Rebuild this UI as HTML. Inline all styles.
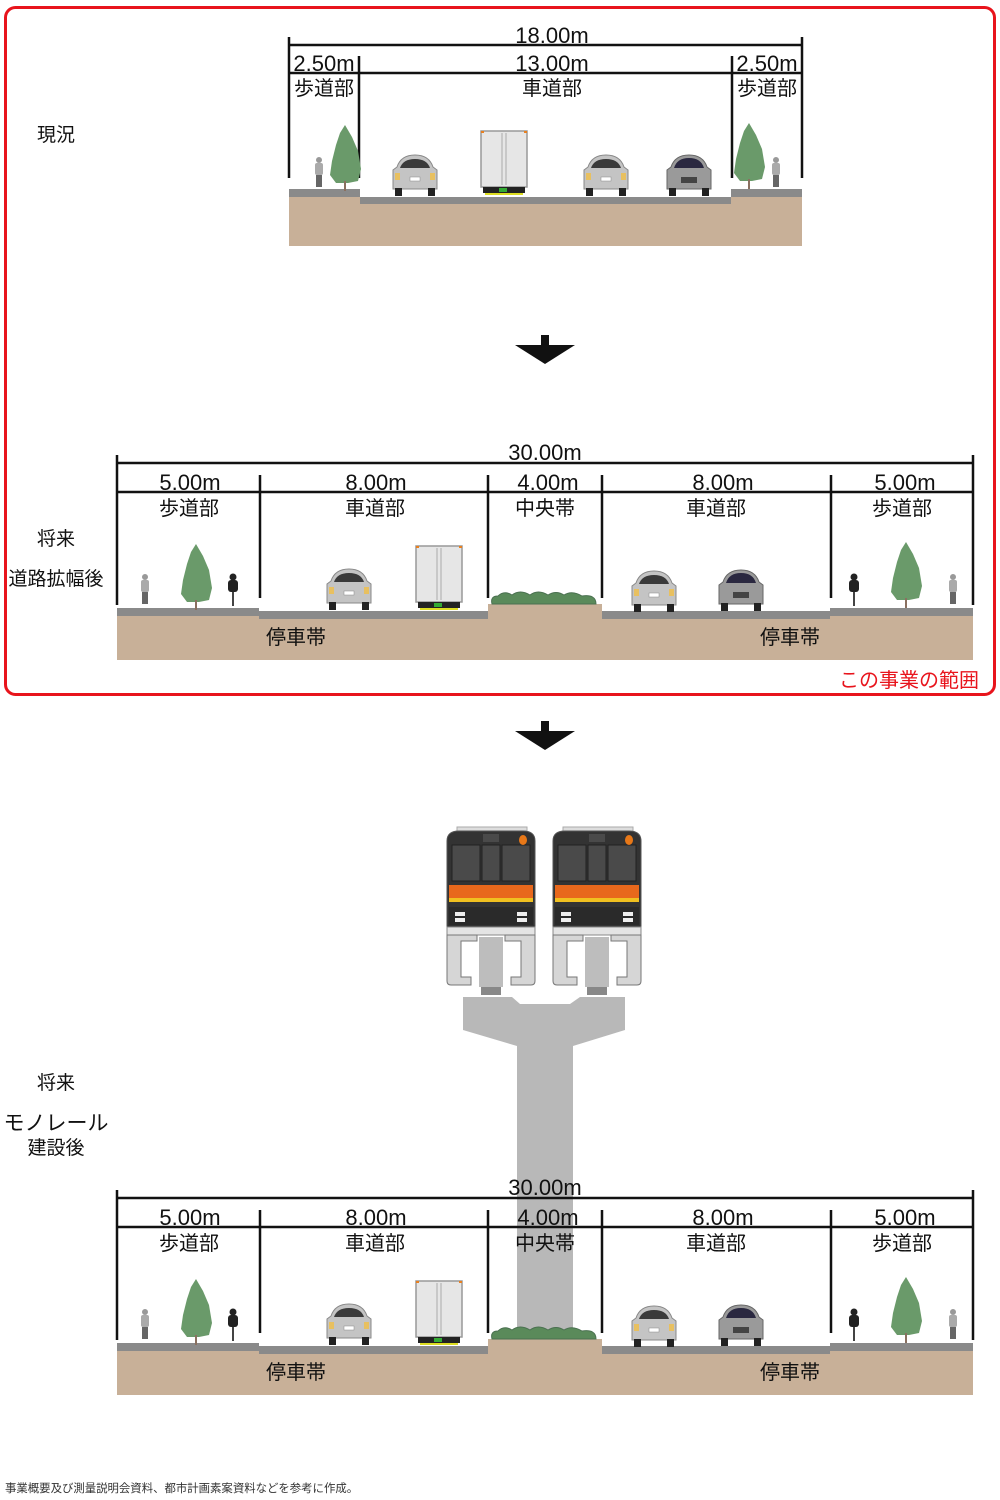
<!DOCTYPE html>
<html><head><meta charset="utf-8">
<style>
html,body{margin:0;padding:0;background:#fff;}
svg{display:block;}
text{font-family:"Liberation Sans","Noto Sans CJK JP",sans-serif;fill:#111;}
</style></head>
<body>
<svg width="1000" height="1500" viewBox="0 0 1000 1500" xmlns="http://www.w3.org/2000/svg">
<defs>
  <g id="car">
    <path d="M6 12 Q10 0 24 0 Q38 0 42 12 L46 15 L46 34 L2 34 L2 15 Z" fill="#c4c4c4" stroke="#888" stroke-width="1"/>
    <path d="M9 13 Q12 4 24 4 Q36 4 39 13 Z" fill="#3a3a3a"/>
    <rect x="4" y="18" width="5" height="7" fill="#e8c060"/>
    <rect x="39" y="18" width="5" height="7" fill="#e8c060"/>
    <rect x="19" y="22" width="10" height="4" fill="#fff" stroke="#888" stroke-width=".5"/>
    <rect x="4" y="33" width="7" height="8" fill="#222"/>
    <rect x="37" y="33" width="7" height="8" fill="#222"/>
  </g>
  <g id="cardark">
    <path d="M6 12 Q10 0 24 0 Q38 0 42 12 L46 15 L46 34 L2 34 L2 15 Z" fill="#9a9a9a" stroke="#666" stroke-width="1"/>
    <path d="M9 13 Q12 3 24 3 Q36 3 39 13 Z" fill="#2a2840"/>
    <rect x="16" y="22" width="16" height="6" fill="#444"/>
    <rect x="4" y="33" width="7" height="8" fill="#222"/>
    <rect x="37" y="33" width="7" height="8" fill="#222"/>
  </g>
  <g id="truck">
    <rect x="0" y="0" width="46" height="56" fill="#e6e6e6" stroke="#999" stroke-width="1.5"/>
    <line x1="21" y1="2" x2="21" y2="54" stroke="#aaa"/><line x1="25" y1="2" x2="25" y2="54" stroke="#aaa"/>
    <rect x="0" y="0" width="3" height="2" fill="#e88020"/><rect x="43" y="0" width="3" height="2" fill="#e88020"/>
    <rect x="2" y="56" width="42" height="6" fill="#222"/>
    <rect x="18" y="57" width="8" height="4" fill="#3a3"/>
    <rect x="4" y="62" width="38" height="2" fill="#dd2"/>
  </g>
  <g id="tree">
    <path d="M17 0 L24 12 L30 26 L33 44 L30 56 L20 58 L8 58 L2 50 L4 36 L8 20 L12 8 Z" fill="#6a9a6a"/>
    <rect x="16" y="56" width="2" height="10" fill="#8a7060"/>
  </g>
  <g id="walker">
    <circle cx="5" cy="3" r="3" fill="#999"/>
    <rect x="1" y="6" width="8" height="12" rx="2" fill="#aaa"/>
    <rect x="2" y="18" width="6" height="12" fill="#666"/>
  </g>
  <g id="cyclist">
    <circle cx="6" cy="3" r="3.5" fill="#222"/>
    <rect x="1" y="6" width="10" height="12" rx="3" fill="#222"/>
    <rect x="5" y="18" width="2" height="14" fill="#444"/>
  </g>
  <g id="bush">
    <path d="M2 16 Q0 8 8 8 Q14 2 22 7 Q30 1 40 7 Q48 1 58 7 Q66 2 74 7 Q82 2 92 8 Q106 6 106 16 Z" fill="#5a8a5a" stroke="#4a7050"/>
  </g>
  <g id="train">
    <rect x="10" y="0" width="70" height="6" fill="#ddd" stroke="#aaa"/>
    <path d="M0 14 Q0 4 12 4 L76 4 Q88 4 88 14 L88 100 L0 100 Z" fill="#333" stroke="#555"/>
    <rect x="5" y="18" width="28" height="36" fill="#4a4a4a" stroke="#222"/>
    <rect x="35" y="18" width="18" height="36" fill="#4a4a4a" stroke="#222"/>
    <rect x="55" y="18" width="28" height="36" fill="#4a4a4a" stroke="#222"/>
    <rect x="36" y="7" width="16" height="8" fill="#4a4a4a"/>
    <ellipse cx="76" cy="13" rx="4" ry="5" fill="#e87818"/>
    <rect x="2" y="58" width="84" height="13" fill="#e8681c"/>
    <rect x="2" y="71" width="84" height="4" fill="#f0c020"/>
    <rect x="2" y="80" width="84" height="18" fill="#2a2a2a"/>
    <rect x="8" y="85" width="10" height="4" fill="#eee"/><rect x="8" y="91" width="10" height="4" fill="#eee"/>
    <rect x="70" y="85" width="10" height="4" fill="#eee"/><rect x="70" y="91" width="10" height="4" fill="#eee"/>
    <rect x="0" y="100" width="88" height="8" fill="#e4e4e4" stroke="#888"/>
    <path d="M0 108 L30 108 L30 114 L14 114 L14 150 L24 150 L24 158 L4 158 Q0 158 0 154 Z" fill="#d6d6d6" stroke="#777"/>
    <path d="M88 108 L58 108 L58 114 L74 114 L74 150 L64 150 L64 158 L84 158 Q88 158 88 154 Z" fill="#d6d6d6" stroke="#777"/>
    <rect x="32" y="110" width="24" height="50" fill="#bdbdbd"/>
    <rect x="34" y="160" width="20" height="8" fill="#888"/>
  </g>
</defs>

<rect x="5.5" y="7.5" width="989" height="687" rx="10" fill="none" stroke="#e8141c" stroke-width="3"/>

<text x="56" y="141" font-size="19" text-anchor="middle">現況</text>
<rect x="289" y="197" width="513" height="49" fill="#c8b098"/>
<rect x="289" y="189" width="71" height="8" fill="#8a8a8a"/>
<rect x="731" y="189" width="71" height="8" fill="#8a8a8a"/>
<rect x="360" y="197" width="371" height="7" fill="#8a8a8a"/>
<g stroke="#111" stroke-width="2.5">
  <line x1="289" y1="45" x2="802" y2="45"/>
  <line x1="289" y1="73" x2="802" y2="73"/>
  <line x1="289" y1="37" x2="289" y2="178"/>
  <line x1="802" y1="37" x2="802" y2="178"/>
  <line x1="359" y1="56" x2="359" y2="178"/>
  <line x1="732" y1="56" x2="732" y2="178"/>
</g>
<text x="552" y="43" font-size="22" text-anchor="middle">18.00m</text>
<text x="552" y="71" font-size="22" text-anchor="middle">13.00m</text>
<text x="324" y="71" font-size="22" text-anchor="middle">2.50m</text>
<text x="767" y="71" font-size="22" text-anchor="middle">2.50m</text>
<text x="324" y="95" font-size="20" text-anchor="middle">歩道部</text>
<text x="552" y="95" font-size="20" text-anchor="middle">車道部</text>
<text x="767" y="95" font-size="20" text-anchor="middle">歩道部</text>
<use href="#tree" x="328" y="125"/>
<use href="#tree" x="732" y="123"/>
<use href="#walker" x="314" y="157"/>
<use href="#walker" x="771" y="157"/>
<use href="#car" x="391" y="155"/>
<use href="#truck" x="481" y="131"/>
<use href="#car" x="582" y="155"/>
<use href="#cardark" x="665" y="155"/>

<rect x="541" y="335" width="8" height="12" fill="#111"/>
<polygon points="515,345 575,345 545,364" fill="#111"/>

<text x="56" y="545" font-size="19" text-anchor="middle">将来</text>
<text x="56" y="585" font-size="19" text-anchor="middle">道路拡幅後</text>
<g>
<rect x="117" y="614" width="856" height="46" fill="#c8b098"/>
<rect x="117" y="608" width="142" height="8" fill="#8a8a8a"/>
<rect x="830" y="608" width="143" height="8" fill="#8a8a8a"/>
<rect x="259" y="611" width="229" height="8" fill="#8a8a8a"/>
<rect x="602" y="611" width="228" height="8" fill="#8a8a8a"/>
<rect x="488" y="604" width="114" height="15" fill="#c8b098"/>
<g stroke="#111" stroke-width="2.5">
  <line x1="117" y1="463" x2="973" y2="463"/>
  <line x1="117" y1="492" x2="973" y2="492"/>
  <line x1="117" y1="455" x2="117" y2="605"/>
  <line x1="973" y1="455" x2="973" y2="605"/>
  <line x1="260" y1="475" x2="260" y2="598"/>
  <line x1="488" y1="475" x2="488" y2="598"/>
  <line x1="602" y1="475" x2="602" y2="598"/>
  <line x1="831" y1="475" x2="831" y2="598"/>
</g>
<text x="545" y="460" font-size="22" text-anchor="middle">30.00m</text>
<text x="190" y="490" font-size="22" text-anchor="middle">5.00m</text>
<text x="376" y="490" font-size="22" text-anchor="middle">8.00m</text>
<text x="548" y="490" font-size="22" text-anchor="middle">4.00m</text>
<text x="723" y="490" font-size="22" text-anchor="middle">8.00m</text>
<text x="905" y="490" font-size="22" text-anchor="middle">5.00m</text>
<text x="189" y="515" font-size="20" text-anchor="middle">歩道部</text>
<text x="375" y="515" font-size="20" text-anchor="middle">車道部</text>
<text x="545" y="515" font-size="20" text-anchor="middle">中央帯</text>
<text x="716" y="515" font-size="20" text-anchor="middle">車道部</text>
<text x="902" y="515" font-size="20" text-anchor="middle">歩道部</text>
<text x="296" y="644" font-size="20" text-anchor="middle">停車帯</text>
<text x="790" y="644" font-size="20" text-anchor="middle">停車帯</text>
<use href="#tree" x="179" y="544"/>
<use href="#tree" x="889" y="542"/>
<use href="#walker" x="140" y="574"/>
<use href="#walker" x="948" y="574"/>
<use href="#cyclist" x="227" y="574"/>
<use href="#cyclist" x="848" y="574"/>
<use href="#car" x="325" y="569"/>
<use href="#truck" x="416" y="546"/>
<use href="#bush" x="490" y="588"/>
<use href="#car" x="630" y="571"/>
<use href="#cardark" x="717" y="570"/>
</g>
<text x="909" y="687" font-size="20" text-anchor="middle" style="fill:#e8141c">この事業の範囲</text>

<rect x="541" y="721" width="8" height="12" fill="#111"/>
<polygon points="515,731 575,731 545,750" fill="#111"/>

<text x="56" y="1089" font-size="19" text-anchor="middle">将来</text>
<text x="56" y="1130" font-size="21" text-anchor="middle">モノレール</text>
<text x="56" y="1154" font-size="19" text-anchor="middle">建設後</text>

<polygon points="463,997 512,997 520,1004 570,1004 580,997 625,997 625,1030 573,1046 573,1340 517,1340 517,1046 463,1030" fill="#b8b8b8"/>
<use href="#train" x="447" y="827"/>
<use href="#train" x="553" y="827"/>

<g transform="translate(0,735)">
<rect x="117" y="614" width="856" height="46" fill="#c8b098"/>
<rect x="117" y="608" width="142" height="8" fill="#8a8a8a"/>
<rect x="830" y="608" width="143" height="8" fill="#8a8a8a"/>
<rect x="259" y="611" width="229" height="8" fill="#8a8a8a"/>
<rect x="602" y="611" width="228" height="8" fill="#8a8a8a"/>
<rect x="488" y="604" width="114" height="15" fill="#c8b098"/>
<g stroke="#111" stroke-width="2.5">
  <line x1="117" y1="463" x2="973" y2="463"/>
  <line x1="117" y1="492" x2="973" y2="492"/>
  <line x1="117" y1="455" x2="117" y2="605"/>
  <line x1="973" y1="455" x2="973" y2="605"/>
  <line x1="260" y1="475" x2="260" y2="598"/>
  <line x1="488" y1="475" x2="488" y2="598"/>
  <line x1="602" y1="475" x2="602" y2="598"/>
  <line x1="831" y1="475" x2="831" y2="598"/>
</g>
<text x="545" y="460" font-size="22" text-anchor="middle">30.00m</text>
<text x="190" y="490" font-size="22" text-anchor="middle">5.00m</text>
<text x="376" y="490" font-size="22" text-anchor="middle">8.00m</text>
<text x="548" y="490" font-size="22" text-anchor="middle">4.00m</text>
<text x="723" y="490" font-size="22" text-anchor="middle">8.00m</text>
<text x="905" y="490" font-size="22" text-anchor="middle">5.00m</text>
<text x="189" y="515" font-size="20" text-anchor="middle">歩道部</text>
<text x="375" y="515" font-size="20" text-anchor="middle">車道部</text>
<text x="545" y="515" font-size="20" text-anchor="middle">中央帯</text>
<text x="716" y="515" font-size="20" text-anchor="middle">車道部</text>
<text x="902" y="515" font-size="20" text-anchor="middle">歩道部</text>
<text x="296" y="644" font-size="20" text-anchor="middle">停車帯</text>
<text x="790" y="644" font-size="20" text-anchor="middle">停車帯</text>
<use href="#tree" x="179" y="544"/>
<use href="#tree" x="889" y="542"/>
<use href="#walker" x="140" y="574"/>
<use href="#walker" x="948" y="574"/>
<use href="#cyclist" x="227" y="574"/>
<use href="#cyclist" x="848" y="574"/>
<use href="#car" x="325" y="569"/>
<use href="#truck" x="416" y="546"/>
<use href="#bush" x="490" y="588"/>
<use href="#car" x="630" y="571"/>
<use href="#cardark" x="717" y="570"/>
</g>

<text x="5" y="1492" font-size="11.4" style="fill:#333">事業概要及び測量説明会資料、都市計画素案資料などを参考に作成。</text>
</svg>
</body></html>
